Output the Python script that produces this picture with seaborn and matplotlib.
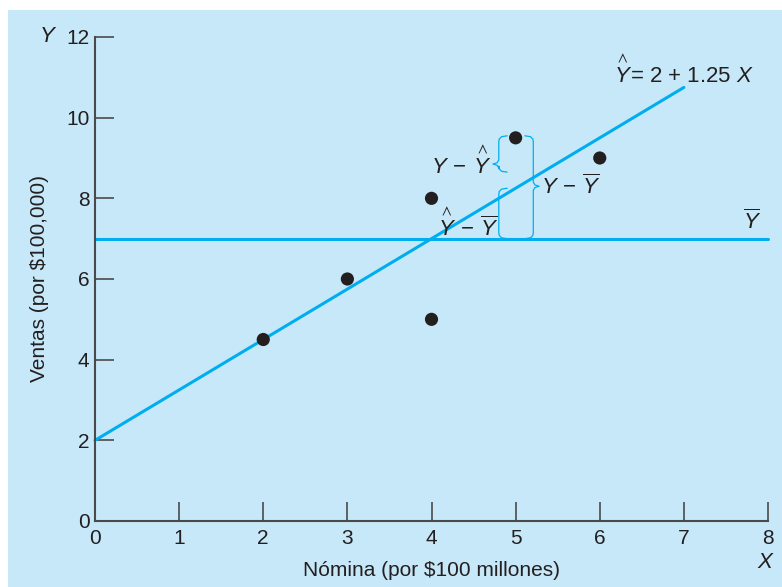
import numpy as np
import pandas as pd
import seaborn as sns
import matplotlib.pyplot as plt
from matplotlib.patches import Rectangle

# data
payroll = [2, 3, 4, 4, 5, 6]          # Nómina (por $100 millones)
sales = [4.5, 6, 8, 5, 9.5, 9]        # Ventas (por $100,000)
line_x = [0, 7]                       # extent of the fitted line
mean_x = [0, 8]                       # extent of the mean line
x_ticks = [0, 1, 2, 3, 4, 5, 6, 7, 8]
y_ticks = [0, 2, 4, 6, 8, 10, 12]

BG = "#c7e8f8"
CYAN = "#00aeef"
DOT = "#231f20"
AXIS = "#4a4a4a"
TEXT = "#231f20"

sns.set_theme(style="ticks")
plt.rcParams.update({
    "font.family": ["Liberation Sans", "DejaVu Sans"],
    "mathtext.fontset": "custom",
    "mathtext.rm": "Liberation Sans",
    "mathtext.it": "Liberation Sans:italic",
    "mathtext.fallback": "stixsans",
    "text.color": TEXT,
    "axes.labelcolor": TEXT,
    "xtick.color": AXIS,
    "ytick.color": AXIS,
    "xtick.labelcolor": TEXT,
    "ytick.labelcolor": TEXT,
    "font.size": 15,
})

df = pd.DataFrame({"x": payroll, "y": sales})
b1, b0 = np.polyfit(df["x"], df["y"], 1)
ybar = df["y"].mean()
fit = pd.DataFrame({"x": line_x, "y": [b0 + b1 * v for v in line_x]})
mean_df = pd.DataFrame({"x": mean_x, "y": [ybar] * len(mean_x)})

fig = plt.figure(figsize=(7.82, 5.87), dpi=100, facecolor="white")
fig.patches.append(Rectangle((8 / 782, 0), 1, 1 - 10 / 587, transform=fig.transFigure,
                             facecolor=BG, edgecolor="none", zorder=-10))
ax = fig.add_axes([95 / 782, 66 / 587, 673 / 782, 484 / 587])
ax.set_facecolor(BG)
ax.patch.set_alpha(0)

sns.lineplot(data=mean_df, x="x", y="y", color=CYAN, linewidth=2.2, ax=ax, clip_on=False)
sns.lineplot(data=fit, x="x", y="y", color=CYAN, linewidth=2.2, ax=ax, clip_on=False)
sns.scatterplot(data=df, x="x", y="y", color=DOT, s=90, edgecolor="none", ax=ax,
                zorder=5, clip_on=False)


def brace(xb, y0, y1, ytip, hook, tip):
    # vertical curly bracket: hooks point toward `hook` side, tip the other way
    r = 0.15
    if tip == 0:
        xs = [xb + hook, xb + hook * 0.35, xb + hook * 0.05, xb, xb,
              xb + hook * 0.05, xb + hook * 0.35, xb + hook]
        ys = [y1, y1 - 0.02, y1 - 0.08, y1 - r, y0 + r, y0 + 0.08, y0 + 0.02, y0]
    else:
        xs = [xb + hook, xb + hook * 0.35, xb + hook * 0.05, xb, xb, xb - tip * 0.3, xb - tip,
              xb - tip * 0.3, xb, xb, xb + hook * 0.05, xb + hook * 0.35, xb + hook]
        ys = [y1, y1 - 0.02, y1 - 0.08, y1 - r, ytip + 0.1, ytip + 0.03, ytip, ytip - 0.03,
              ytip - 0.1, y0 + r, y0 + 0.08, y0 + 0.02, y0]
    ax.plot(xs, ys, color=CYAN, linewidth=0.9, solid_joinstyle="round")


# residual brackets for the point at x = 5
xo, yo = payroll[4], sales[4]
yhat = b0 + b1 * xo
brace(xo - 0.2, yhat + 0.4, yo + 0.05, yhat + 0.6, 0.1, 0.07)
brace(xo - 0.2, ybar, yhat, yhat, 0.1, 0.0)
brace(xo + 0.21, ybar, yo + 0.05, yhat + 0.05, -0.1, -0.07)

YHAT = r"\overset{\,\wedge}{Y}"
ax.text(4.72, 8.9, r"$Y\,-\,%s$" % YHAT, ha="right", va="center", fontsize=16)
ax.text(4.07, 7.36, r"$%s\,-\,\overline{Y}$" % YHAT, ha="left", va="center", fontsize=16)
ax.text(5.30, 8.29, r"$Y\,-\,\overline{Y}$", ha="left", va="center", fontsize=16)
ax.text(6.16, 11.14, r"$%s$= 2 + 1.25 $X$" % YHAT, ha="left", va="center", fontsize=16)
ax.text(7.81, 7.42, r"$\overline{Y}$", ha="center", va="center", fontsize=16)

ax.set_xlim(0, 8)
ax.set_ylim(0, 12)
ax.set_xticks(x_ticks)
ax.set_yticks(y_ticks)
ax.tick_params(direction="in", length=14, width=1.2, labelsize=15)
ax.tick_params(axis="x", pad=6)
ax.tick_params(axis="y", pad=4)
for side in ["top", "right"]:
    ax.spines[side].set_visible(False)
for side in ["left", "bottom"]:
    ax.spines[side].set_color(AXIS)
    ax.spines[side].set_linewidth(1.5)

ax.set_xlabel("Nómina (por $100 millones)", fontsize=15, labelpad=9)
ax.set_ylabel("Ventas (por $100,000)", fontsize=15, labelpad=12)
ax.text(-0.07, 1.0, "$Y$", transform=ax.transAxes, ha="center", va="center", fontsize=16)
ax.text(0.997, -0.085, "$X$", transform=ax.transAxes, ha="center", va="center", fontsize=16)

fig.savefig("out.png", dpi=100, facecolor=fig.get_facecolor())
